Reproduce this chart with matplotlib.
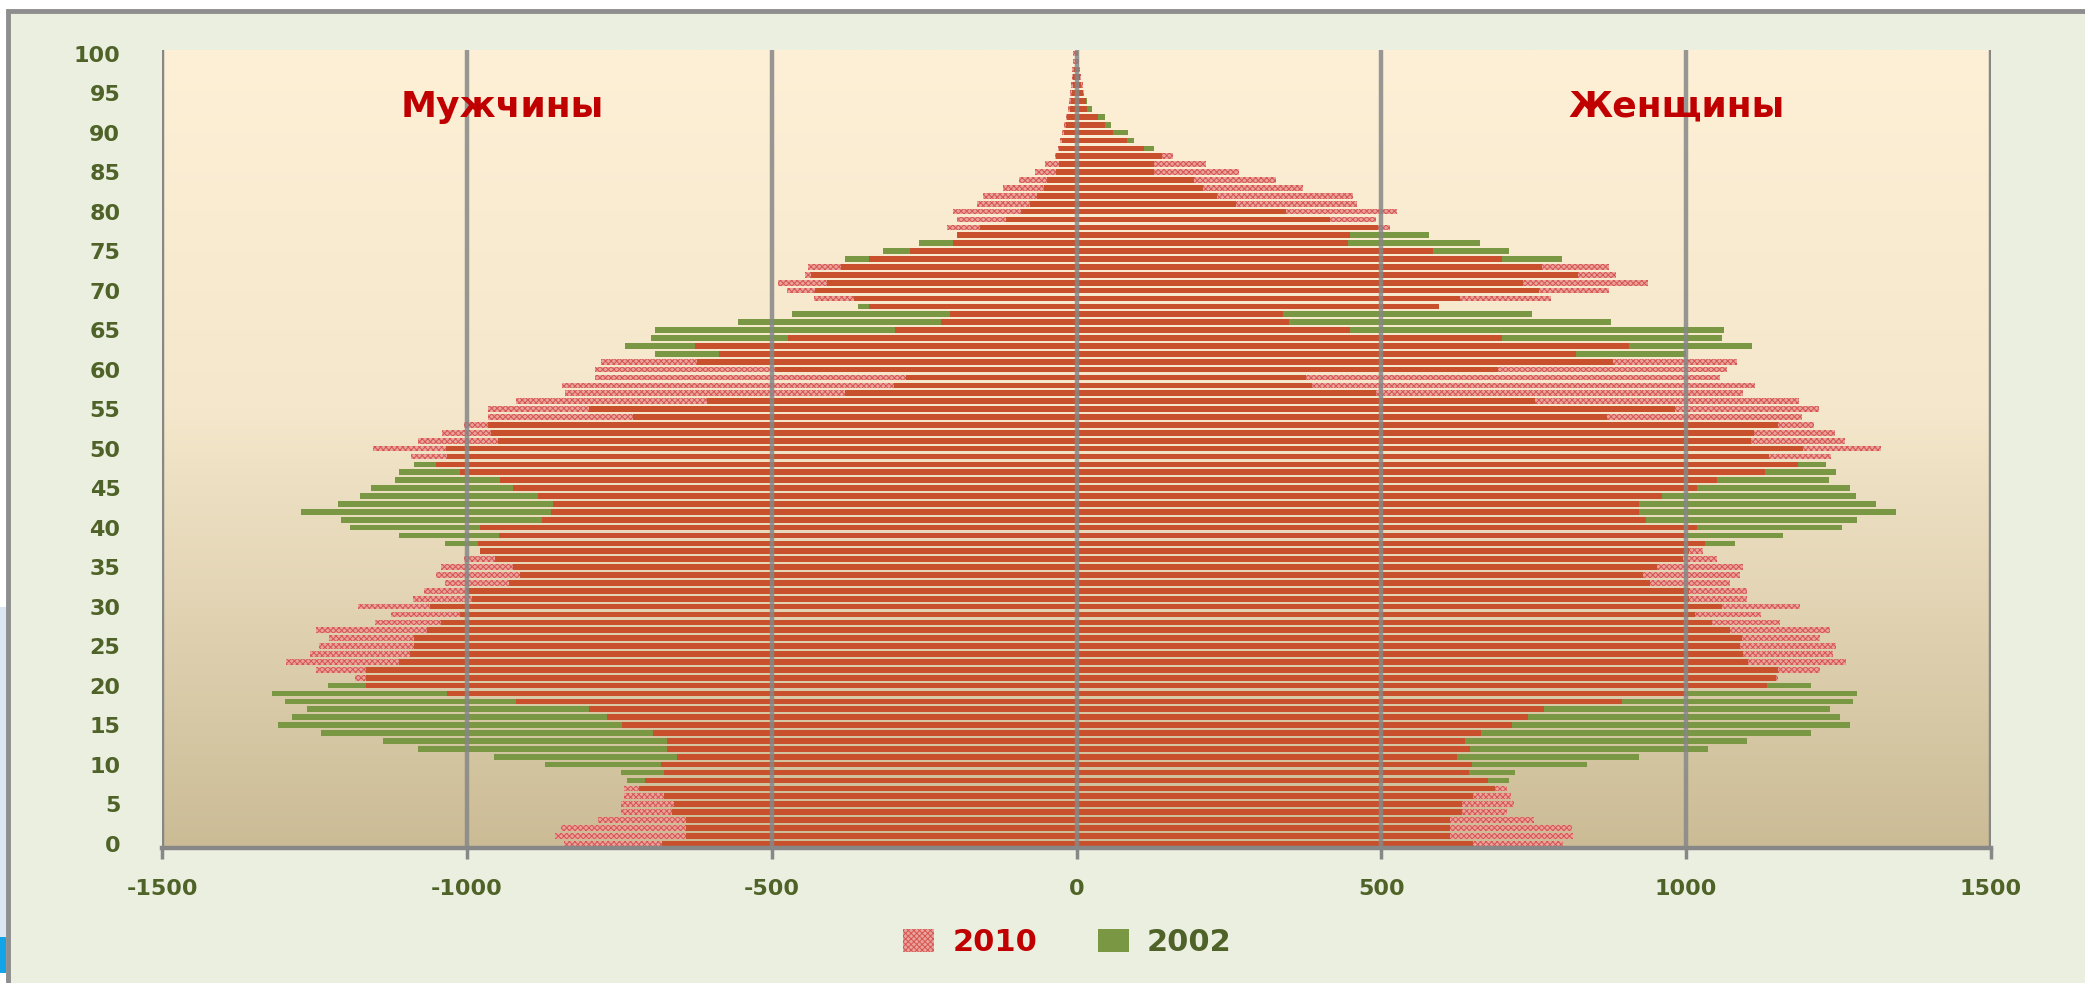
import numpy as np
import matplotlib
matplotlib.use("Agg")
import matplotlib.pyplot as plt
from matplotlib.patches import Rectangle, Patch

# ---------------- data (thousands of people, by single year of age 0..100) -------------
ages = list(range(0, 101))

men_2010 = [841, 856, 845, 785, 747, 747, 743, 743, 707, 676,
            681, 655, 672, 672, 695, 745, 770, 799, 919, 1032,
            1166, 1183, 1247, 1296, 1258, 1243, 1226, 1247, 1151, 1124,
            1178, 1088, 1071, 1036, 1051, 1042, 1005, 979, 982, 948,
            979, 877, 862, 858, 883, 925, 946, 1011, 1051, 1092,
            1154, 1080, 1041, 1004, 966, 966, 919, 839, 844, 790,
            790, 780, 587, 626, 473, 297, 222, 207, 341, 431,
            475, 489, 446, 441, 340, 273, 202, 196, 212, 196,
            202, 164, 153, 120, 95, 68, 52, 35, 31, 27,
            24, 20, 17, 14, 12, 11, 9, 8, 7, 6, 5]

men_2002 = [680, 641, 641, 641, 663, 661, 676, 718, 738, 747,
            871, 956, 1080, 1138, 1239, 1310, 1287, 1262, 1298, 1319,
            1227, 1166, 1166, 1112, 1094, 1086, 1086, 1065, 1042, 1011,
            1061, 992, 1000, 931, 913, 925, 954, 979, 1036, 1111,
            1191, 1206, 1272, 1212, 1175, 1158, 1118, 1111, 1086, 1032,
            1034, 949, 961, 966, 728, 799, 606, 380, 300, 280,
            494, 623, 691, 740, 698, 691, 556, 467, 358, 365,
            429, 410, 436, 387, 379, 317, 258, 196, 159, 115,
            91, 76, 65, 54, 49, 34, 28, 33, 28, 24,
            20, 18, 15, 11, 9, 7, 6, 5, 4, 3, 2]

women_2010 = [798, 815, 812, 751, 706, 717, 712, 706, 675, 644,
              649, 624, 646, 638, 663, 715, 740, 766, 894, 998,
              1133, 1150, 1220, 1262, 1241, 1245, 1220, 1236, 1154, 1122,
              1186, 1100, 1100, 1072, 1089, 1093, 1051, 1028, 1031, 998,
              1017, 934, 922, 922, 960, 1017, 1051, 1130, 1184, 1238,
              1319, 1260, 1244, 1210, 1190, 1218, 1185, 1093, 1113, 1056,
              1067, 1084, 820, 907, 698, 449, 348, 338, 594, 778,
              874, 937, 885, 874, 698, 584, 446, 449, 514, 492,
              525, 460, 453, 372, 327, 267, 212, 159, 110, 83,
              60, 46, 36, 18, 15, 13, 10, 7, 5, 4, 3]

women_2002 = [650, 612, 612, 612, 633, 633, 650, 686, 709, 720,
              838, 923, 1036, 1100, 1205, 1269, 1252, 1236, 1273, 1281,
              1205, 1148, 1150, 1102, 1094, 1088, 1091, 1072, 1042, 1015,
              1059, 1005, 1005, 940, 929, 952, 994, 1005, 1080, 1159,
              1256, 1280, 1344, 1311, 1279, 1268, 1235, 1246, 1229, 1136,
              1192, 1107, 1112, 1150, 870, 982, 752, 492, 386, 377,
              692, 880, 1000, 1108, 1058, 1062, 877, 747, 594, 629,
              759, 732, 822, 764, 797, 709, 662, 579, 495, 415,
              344, 261, 230, 208, 192, 127, 127, 140, 127, 94,
              85, 56, 46, 25, 18, 10, 8, 6, 4, 3, 2]

x_ticks = [-1500, -1000, -500, 0, 500, 1000, 1500]
x_labels = ["-1500", "-1000", "-500", "0", "500", "1000", "1500"]
y_ticks = list(range(0, 101, 5))
y_labels = [str(v) for v in y_ticks]
series_names = ["2010", "2002"]
side_titles = ["Мужчины", "Женщины"]

# ---------------- style ----------------
plt.rcParams['font.family'] = ['DejaVu Sans']
W, H = 2085, 983
fig = plt.figure(figsize=(W / 100, H / 100), dpi=100)
fig.patch.set_facecolor('white')

C_GREEN = '#7A9743'
C_PINK = '#EAA39C'
C_PINK_H = '#D65550'
C_OVER = '#C8502C'
C_GRID = '#878787'
C_TXT = '#4F6228'
C_RED = '#C00000'

# chart frame (behind the axes)
fig.patches.append(Rectangle((8 / W, -0.02), 1.05, 1 - 11 / H + 0.02, transform=fig.transFigure,
                             facecolor='#EBEFDF', edgecolor='#8E8E8E', lw=3.5, zorder=-5))
fig.patches.append(Rectangle((0, 10 / H), 6 / W, 36 / H, transform=fig.transFigure,
                             facecolor='#12A4E6', edgecolor='none', zorder=-4))
fig.patches.append(Rectangle((0, 46 / H), 6 / W, 330 / H, transform=fig.transFigure,
                             facecolor='#DCE6F3', edgecolor='none', zorder=-4))

ax = fig.add_axes([162 / W, 1 - 848 / H, 1829 / W, 798 / H])
ax.set_zorder(1)
ax.set_facecolor('none')

# vertical gradient background of plot area
top = np.array([253, 240, 214]) / 255
mid = np.array([244, 231, 203]) / 255
bot = np.array([203, 188, 150]) / 255
t = np.linspace(0, 1, 256)[:, None]
grad = np.where(t < 0.45, top + (mid - top) * (t / 0.45), mid + (bot - mid) * ((t - 0.45) / 0.55))
ax.imshow(grad[:, None, :].repeat(2, axis=1), extent=[-1500, 1500, -0.55, 100.45],
          aspect='auto', zorder=0, interpolation='bilinear')

ages_a = np.array(ages)
m10, m02 = np.array(men_2010), np.array(men_2002)
w10, w02 = np.array(women_2010), np.array(women_2002)
bh = 0.72

plt.rcParams['hatch.linewidth'] = 0.7
for sign, v10, v02 in [(-1, m10, m02), (1, w10, w02)]:
    ax.barh(ages_a, sign * v02, height=bh, color=C_GREEN, edgecolor='none', zorder=2)
    ax.barh(ages_a, sign * v10, height=bh, facecolor=C_PINK, edgecolor=C_PINK_H,
            hatch='xxxxxx', linewidth=0, zorder=2.1)
    ax.barh(ages_a, sign * np.minimum(v10, v02), height=bh, color=C_OVER,
            edgecolor='none', zorder=2.2)

for xt in x_ticks:
    ax.axvline(xt, color=C_GRID, lw=3.2, alpha=0.85 if abs(xt) < 1500 else 1, zorder=3)

ax.set_xlim(-1500, 1500)
ax.set_ylim(-0.55, 100.45)
for s in ['top', 'right', 'left']:
    ax.spines[s].set_visible(False)
ax.spines['bottom'].set_color(C_GRID)
ax.spines['bottom'].set_linewidth(3.2)
ax.spines['bottom'].set_zorder(4)

ax.set_xticks(x_ticks)
ax.set_xticklabels(x_labels, fontsize=16, fontweight='bold', color=C_TXT)
ax.set_yticks(y_ticks)
ax.set_yticklabels(y_labels, fontsize=16, fontweight='bold', color=C_TXT)
ax.tick_params(axis='x', direction='out', length=8, width=2.5, color=C_GRID, pad=14)
ax.tick_params(axis='y', length=0, pad=30)

ax.text(0.186, 0.929, side_titles[0], transform=ax.transAxes, ha='center', va='center',
        fontsize=26, fontweight='bold', color=C_RED, zorder=5)
ax.text(0.828, 0.929, side_titles[1], transform=ax.transAxes, ha='center', va='center',
        fontsize=26, fontweight='bold', color=C_RED, zorder=5)

handles = [Patch(facecolor=C_PINK, edgecolor=C_PINK_H, hatch='xxxxxx', linewidth=0),
           Patch(facecolor=C_GREEN, edgecolor='none')]
leg = fig.legend(handles, series_names, loc='center', bbox_to_anchor=(0.512, 0.041),
                 ncol=2, frameon=False, prop={'size': 22, 'weight': 'bold'},
                 handlelength=1.0, handleheight=0.75, handletextpad=0.6, columnspacing=2.0)
for txt, col in zip(leg.get_texts(), [C_RED, C_TXT]):
    txt.set_color(col)

fig.savefig('out.png', dpi=100, facecolor=fig.get_facecolor())
